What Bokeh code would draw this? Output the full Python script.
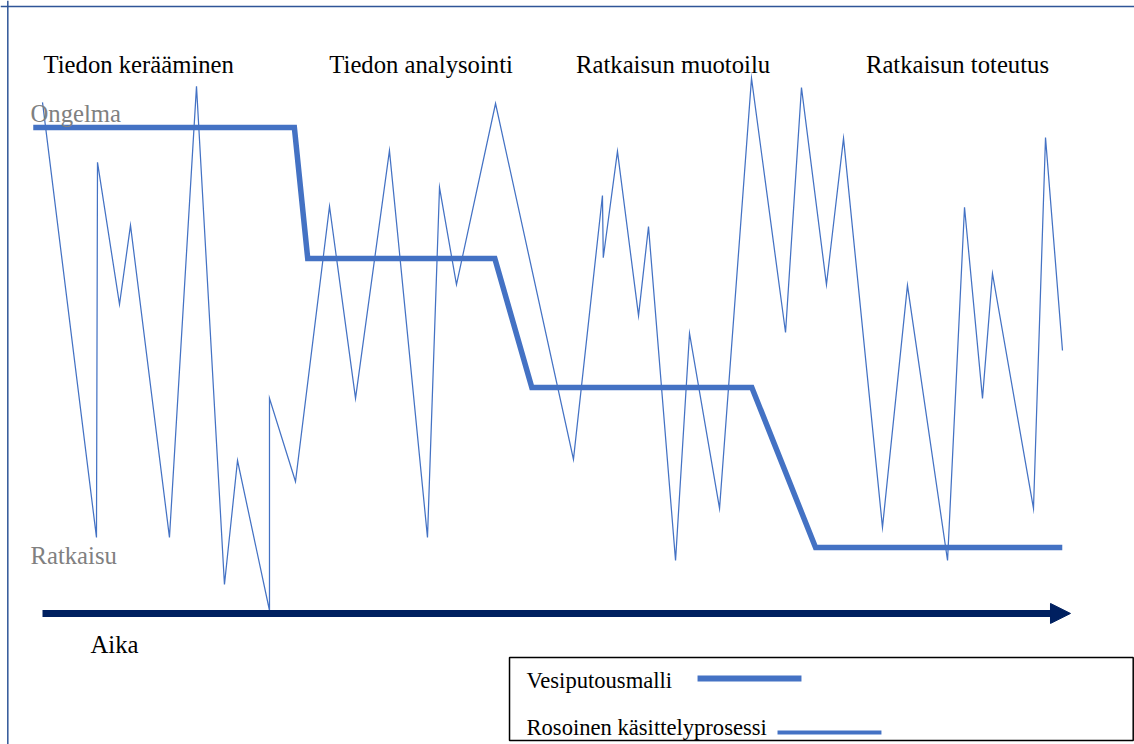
from bokeh.plotting import figure
from bokeh.models import Range1d, Span, BoxAnnotation, Arrow, NormalHead, ColumnDataSource
from bokeh.core.properties import value
from bokeh.embed import file_html
from bokeh.resources import INLINE

# ---------------- data ----------------
phase_labels = ["Tiedon kerääminen", "Tiedon analysointi", "Ratkaisun muotoilu", "Ratkaisun toteutus"]
level_labels = ["Ongelma", "Ratkaisu"]
time_label = "Aika"
legend_labels = ["Vesiputousmalli", "Rosoinen käsittelyprosessi"]

# time axis runs from 0 to 100; problem level: 100 = Ongelma, 0 = Ratkaisu
time_start = 0
time_end = 100

waterfall_x = [-0.9, 24.5, 25.8, 44.0, 47.6, 69.0, 75.2, 99.2]
waterfall_y = [100.0, 100.0, 68.8, 68.8, 38.1, 38.1, 0.0, 0.0]

jagged_x = [0.0, 5.25, 5.35, 7.49, 8.56, 12.35, 14.98, 17.70, 18.97, 22.08,
            22.08, 24.61, 27.92, 30.45, 33.75, 37.45, 38.62, 40.27, 44.07, 51.65,
            54.47, 54.55, 55.93, 57.98, 58.95, 61.58, 62.94, 65.86, 68.97, 72.28,
            73.83, 76.26, 77.92, 81.71, 84.14, 88.04, 89.69, 91.44, 92.41, 96.40,
            97.57, 99.22]
jagged_y = [106.0, 2.4, 91.7, 57.9, 76.7, 2.4, 109.8, -8.8, 20.7, -15.0,
            35.5, 15.7, 81.2, 35.5, 94.5, 2.4, 85.7, 62.6, 105.7, 21.0,
            83.8, 69.0, 94.3, 55.2, 76.4, -3.1, 51.0, 9.3, 111.7, 51.2,
            109.5, 62.6, 97.4, 4.8, 62.4, -3.1, 81.0, 35.5, 65.2, 9.3,
            97.6, 46.9]

# ---------------- layout ----------------
BLUE = "#4472C4"
NAVY = "#002060"
GRAY = "#808080"
SERIF = value("Liberation Serif")

p = figure(width=1134, height=744, output_backend="svg", toolbar_location=None,
           x_range=Range1d(-4.086, 106.226), y_range=Range1d(-46.905, 130.238),
           x_axis_location=None, y_axis_location=None, min_border=0,
           background_fill_color="white", border_fill_color="white")
p.outline_line_color = None
p.grid.visible = False

# outer frame (top and left edges visible)
p.add_layout(Span(location=128.81, dimension="width", line_color="#2F5597", line_width=1.5))
p.add_layout(Span(location=-3.375, dimension="height", line_color="#2F5597", line_width=1.5))

# jagged process line
p.line(jagged_x, jagged_y, line_color=BLUE, line_width=1.25, line_join="miter")

# waterfall line
p.line(waterfall_x, waterfall_y, line_color=BLUE, line_width=5.5, line_join="miter")

# time arrow
arrow_y = -15.7
p.add_layout(Arrow(end=NormalHead(size=20, fill_color=NAVY, line_color=NAVY),
                   x_start=time_start, y_start=arrow_y, x_end=time_end, y_end=arrow_y,
                   line_color=NAVY, line_width=7))

# phase labels
phase_src = ColumnDataSource(dict(x=[0.1, 27.9, 51.9, 80.1], y=[114.9] * 4, t=phase_labels))
p.text(x="x", y="y", text="t", source=phase_src, text_font=SERIF,
       text_font_size=value("24.7px"), text_color="black",
       text_align="left", text_baseline="alphabetic")

# level labels
level_src = ColumnDataSource(dict(x=[-1.17, -1.17], y=[103.4, -1.8], t=level_labels))
p.text(x="x", y="y", text="t", source=level_src, text_font=SERIF,
       text_font_size=value("24.7px"), text_color=GRAY,
       text_align="left", text_baseline="alphabetic")

# time label
p.text(x=[4.67], y=[-23.2], text=[time_label], text_font=SERIF,
       text_font_size=value("24.7px"), text_color="black",
       text_align="left", text_baseline="alphabetic")

# legend box
p.add_layout(BoxAnnotation(left=45.43, right=106.1, top=-26.19, bottom=-45.95,
                           fill_color=None, line_color="black", line_alpha=1.0,
                           line_width=1.5, level="underlay"))
leg_src = ColumnDataSource(dict(x=[47.08, 47.08], y=[-31.7, -42.9], t=legend_labels))
p.text(x="x", y="y", text="t", source=leg_src, text_font=SERIF,
       text_font_size=value("22.6px"), text_color="black",
       text_align="left", text_baseline="alphabetic")
p.segment(x0=[63.72, 71.50], y0=[-31.19, -44.05], x1=[73.83, 81.61], y1=[-31.19, -44.05],
          line_color=BLUE, line_width=[6, 4])

open("out.html", "w").write(file_html(p, INLINE))
